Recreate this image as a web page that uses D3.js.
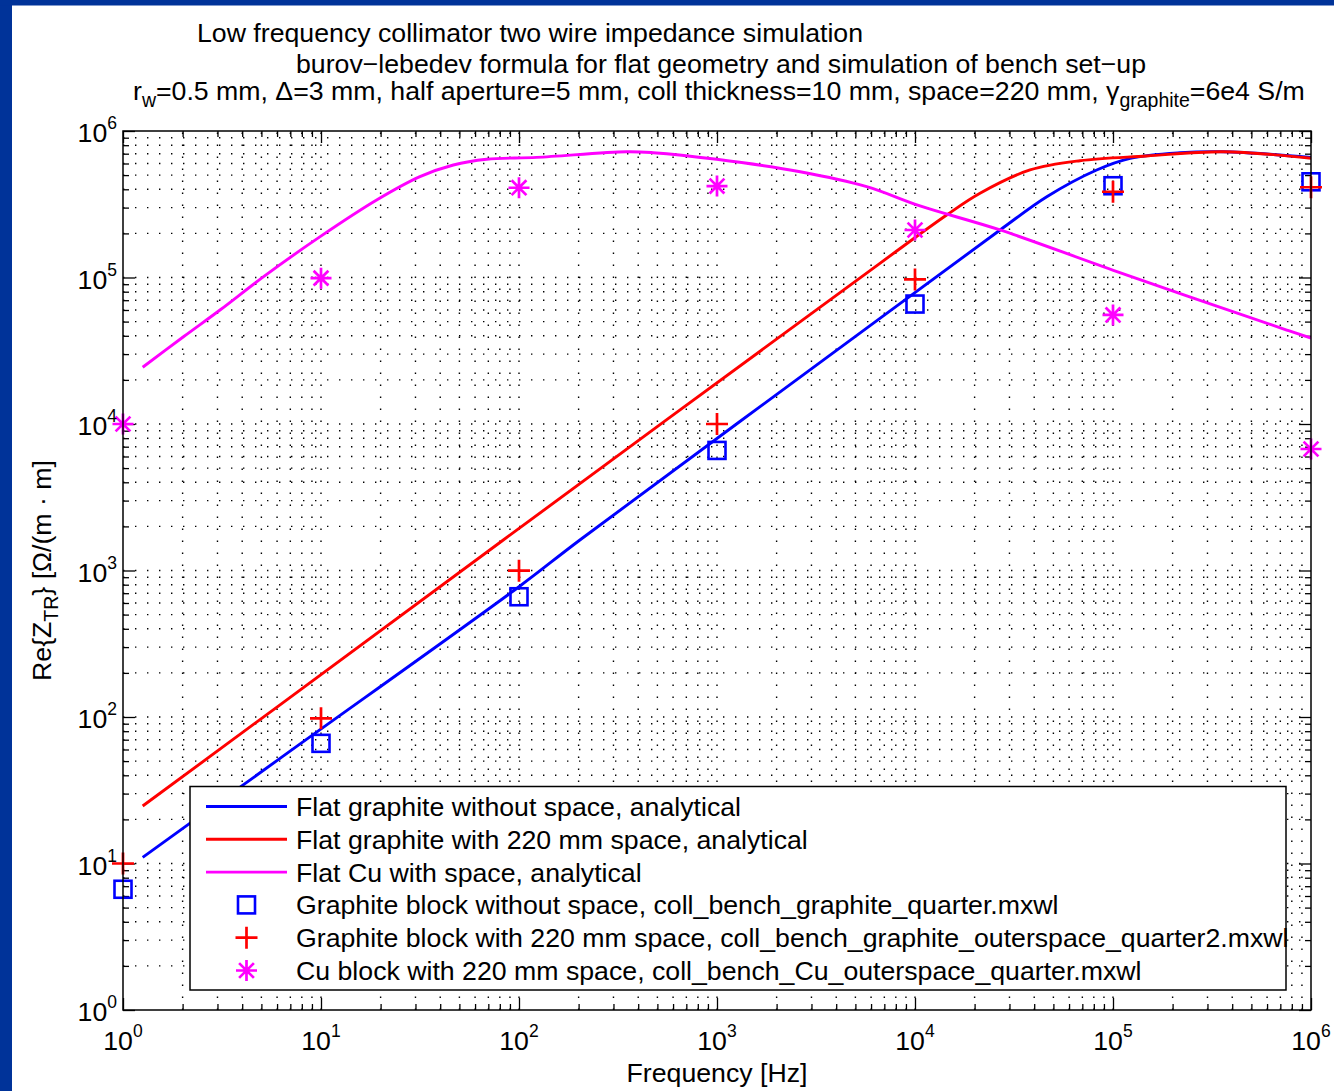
<!DOCTYPE html>
<html>
<head>
<meta charset="utf-8">
<script src="https://cdn.jsdelivr.net/npm/d3@7"></script>
<style>
  html, body { margin: 0; padding: 0; background: #ffffff; }
  svg { display: block; }
  text { font-family: "Liberation Sans", Arial, Helvetica, sans-serif; fill: #000; }
</style>
</head>
<body>
<svg id="chart" width="1334" height="1091"></svg>
<script>
// ---------------- DATA ----------------
const titleLines = [
  "Low frequency collimator two wire impedance simulation",
  "burov\u2212lebedev formula for flat geometry and simulation of bench set\u2212up"
];
const xLabel = "Frequency [Hz]";
const tickExponents = [0, 1, 2, 3, 4, 5, 6];
const minorMultipliers = [2, 3, 4, 5, 6, 7, 8, 9];

// analytical curves [frequency, value]
const blueFreq = [1.257, 6.21, 100, 203, 6650, 26900, 46300, 82700, 122000, 218000, 360000, 1e6];
const blueVals = [11.0, 52.2, 775, 1615, 52600, 211000, 356000, 542000, 651000, 711000, 722000, 661000];

const redFreq = [1.257, 6.21, 83.3, 6650, 14450, 21300, 38100, 68100, 148000, 360000, 1e6];
const redVals = [24.7, 121, 1615, 125000, 267000, 376000, 542000, 627000, 675000, 722000, 651000];

const cuFreq = [1.257, 2.02, 3.09, 5.11, 9.9, 19.1, 31.6, 46.6, 68.7, 123, 350, 476, 996, 2630, 5700, 10600, 26900, 100400, 754000, 1e6];
const cuVals = [24400, 39400, 60000, 101000, 190000, 338000, 488000, 586000, 641000, 661000, 722000, 711000, 641000, 527000, 417000, 308000, 211000, 112000, 43800, 38600];

// simulated points
const measFreq = [1, 10, 100, 1e3, 1e4, 1e5, 1e6];
const graphiteNoSpaceMeas = [6.67, 66.1, 662, 6600, 65900, 423000, 450000];
const graphiteSpaceMeas = [10, 98, 997, 10000, 97000, 385000, 413000];
const cuSpaceMeas = [10000, 99000, 410000, 421000, 211000, 55500, 6750];

const legendLabels = [
  "Flat graphite without space, analytical",
  "Flat graphite with 220 mm space, analytical",
  "Flat Cu with space, analytical",
  "Graphite block without space, coll_bench_graphite_quarter.mxwl",
  "Graphite block with 220 mm space, coll_bench_graphite_outerspace_quarter2.mxwl",
  "Cu block with 220 mm space, coll_bench_Cu_outerspace_quarter.mxwl"
];

// ---------------- LAYOUT ----------------
const svg = d3.select("#chart");
const L = 123, R = 1311, T = 131, B = 1010;
const x = d3.scaleLog().domain([1, 1e6]).range([L, R]);
const y = d3.scaleLog().domain([1, 1e6]).range([B, T]);
const BLUE = "#0000ff", RED = "#ff0000", MAG = "#ff00ff";
const FS = 26.7;
const SUB = 19.5;

// navy frame
svg.append("rect").attr("x", 0).attr("y", 0).attr("width", 1334).attr("height", 1091).attr("fill", "#ffffff");
svg.append("rect").attr("x", 0).attr("y", 0).attr("width", 12).attr("height", 1091).attr("fill", "#003399");
svg.append("rect").attr("x", 0).attr("y", 0).attr("width", 1334).attr("height", 5.5).attr("fill", "#003399");

// plot background
svg.append("rect").attr("x", L).attr("y", T).attr("width", R - L).attr("height", B - T).attr("fill", "#fff");

// grid values
const majors = tickExponents.map(e => Math.pow(10, e));
const minors = [];
tickExponents.slice(0, -1).forEach(e => minorMultipliers.forEach(m => minors.push(m * Math.pow(10, e))));
const allGrid = majors.concat(minors);

const grid = svg.append("g").attr("stroke", "#000").attr("stroke-width", 1.4).attr("stroke-dasharray", "1.4,10.6");
allGrid.forEach(v => {
  if (v > 1 && v < 1e6) {
    grid.append("line").attr("x1", x(v)).attr("x2", x(v)).attr("y1", B).attr("y2", T);
    grid.append("line").attr("x1", L).attr("x2", R).attr("y1", y(v)).attr("y2", y(v));
  }
});

// ticks via d3 axes (inward)
function addAxis(axisFn, scale, vals, size, transform) {
  const g = svg.append("g").attr("transform", transform)
    .call(axisFn(scale).tickValues(vals).tickSize(size).tickFormat(""));
  g.select(".domain").remove();
  g.selectAll(".tick line").attr("stroke", "#000").attr("stroke-width", 1.3);
}
addAxis(d3.axisBottom, x, majors, -12, `translate(0,${B})`);
addAxis(d3.axisBottom, x, minors, -6, `translate(0,${B})`);
addAxis(d3.axisTop, x, majors, -12, `translate(0,${T})`);
addAxis(d3.axisTop, x, minors, -6, `translate(0,${T})`);
addAxis(d3.axisLeft, y, majors, -12, `translate(${L},0)`);
addAxis(d3.axisLeft, y, minors, -6, `translate(${L},0)`);
addAxis(d3.axisRight, y, majors, -12, `translate(${R},0)`);
addAxis(d3.axisRight, y, minors, -6, `translate(${R},0)`);

// clip for curves
svg.append("clipPath").attr("id", "clip").append("rect")
  .attr("x", L).attr("y", T).attr("width", R - L).attr("height", B - T);

const line = d3.line().x(d => x(d[0])).y(d => y(d[1])).curve(d3.curveCatmullRom.alpha(0.5));
const curves = [
  { f: blueFreq, v: blueVals, c: BLUE },
  { f: redFreq, v: redVals, c: RED },
  { f: cuFreq, v: cuVals, c: MAG }
];
const cg = svg.append("g").attr("clip-path", "url(#clip)");
curves.forEach(s => {
  cg.append("path").attr("d", line(s.f.map((f, i) => [f, s.v[i]])))
    .attr("fill", "none").attr("stroke", s.c).attr("stroke-width", 2.9).attr("stroke-linejoin", "round");
});

// markers
function square(g, cx, cy, c) {
  g.append("rect").attr("x", cx - 8.5).attr("y", cy - 8.5).attr("width", 17).attr("height", 17)
    .attr("fill", "none").attr("stroke", c).attr("stroke-width", 2.6);
}
function plus(g, cx, cy, c) {
  g.append("path").attr("d", `M${cx - 11},${cy}H${cx + 11}M${cx},${cy - 11}V${cy + 11}`)
    .attr("stroke", c).attr("stroke-width", 2.7).attr("fill", "none");
}
function star(g, cx, cy, c) {
  const r = 10.5, d = 7.4;
  g.append("path").attr("d",
    `M${cx - r},${cy}H${cx + r}M${cx},${cy - r}V${cy + r}M${cx - d},${cy - d}L${cx + d},${cy + d}M${cx - d},${cy + d}L${cx + d},${cy - d}`)
    .attr("stroke", c).attr("stroke-width", 2.7).attr("fill", "none");
}
const mg = svg.append("g");
measFreq.forEach((f, i) => square(mg, x(f), y(graphiteNoSpaceMeas[i]), BLUE));
measFreq.forEach((f, i) => plus(mg, x(f), y(graphiteSpaceMeas[i]), RED));
measFreq.forEach((f, i) => star(mg, x(f), y(cuSpaceMeas[i]), MAG));

// axes box
svg.append("rect").attr("x", L).attr("y", T).attr("width", R - L).attr("height", B - T)
  .attr("fill", "none").attr("stroke", "#000").attr("stroke-width", 1.5);

// tick labels
tickExponents.forEach(e => {
  const t = svg.append("text").attr("x", x(Math.pow(10, e))).attr("y", 1050)
    .attr("text-anchor", "middle").attr("font-size", FS).text("10");
  t.append("tspan").attr("dy", -13).attr("font-size", 17.5).text(e);
  const t2 = svg.append("text").attr("x", 117).attr("y", y(Math.pow(10, e)) + 11)
    .attr("text-anchor", "end").attr("font-size", FS).text("10");
  t2.append("tspan").attr("dy", -13).attr("font-size", 17.5).text(e);
});

// axis labels
svg.append("text").attr("x", (L + R) / 2).attr("y", 1082).attr("text-anchor", "middle")
  .attr("font-size", FS).text(xLabel);
const yl = svg.append("text").attr("transform", `translate(51,${(T + B) / 2}) rotate(-90)`)
  .attr("text-anchor", "middle").attr("font-size", FS);
yl.append("tspan").text("Re{Z");
yl.append("tspan").attr("dy", 7).attr("font-size", SUB).text("TR");
yl.append("tspan").attr("dy", -7).text("} [\u03A9/(m \u00B7 m]");

// titles
svg.append("text").attr("x", 197).attr("y", 42).attr("font-size", FS).text(titleLines[0]);
svg.append("text").attr("x", 296).attr("y", 73).attr("font-size", FS).text(titleLines[1]);
const t3 = svg.append("text").attr("x", 133).attr("y", 100).attr("font-size", FS);
t3.append("tspan").text("r");
t3.append("tspan").attr("dy", 7).attr("font-size", SUB).text("w");
t3.append("tspan").attr("dy", -7).text("=0.5 mm, \u0394=3 mm, half aperture=5 mm, coll thickness=10 mm, space=220 mm, \u03B3");
t3.append("tspan").attr("dy", 7).attr("font-size", SUB).text("graphite");
t3.append("tspan").attr("dy", -7).text("=6e4 S/m");

// legend
const lg = svg.append("g");
lg.append("rect").attr("x", 190).attr("y", 786.5).attr("width", 1096).attr("height", 203.5)
  .attr("fill", "#fff").attr("stroke", "#000").attr("stroke-width", 1.5);
const rowY = i => 806.5 + i * 32.8;
const legendColors = [BLUE, RED, MAG];
legendColors.forEach((c, i) => {
  lg.append("line").attr("x1", 206).attr("x2", 287).attr("y1", rowY(i)).attr("y2", rowY(i))
    .attr("stroke", c).attr("stroke-width", 2.9);
});
square(lg, 246.5, rowY(3), BLUE);
plus(lg, 246.5, rowY(4), RED);
star(lg, 246.5, rowY(5), MAG);
legendLabels.forEach((s, i) => {
  lg.append("text").attr("x", 296).attr("y", rowY(i) + 9.5).attr("font-size", FS).text(s);
});
</script>
</body>
</html>
